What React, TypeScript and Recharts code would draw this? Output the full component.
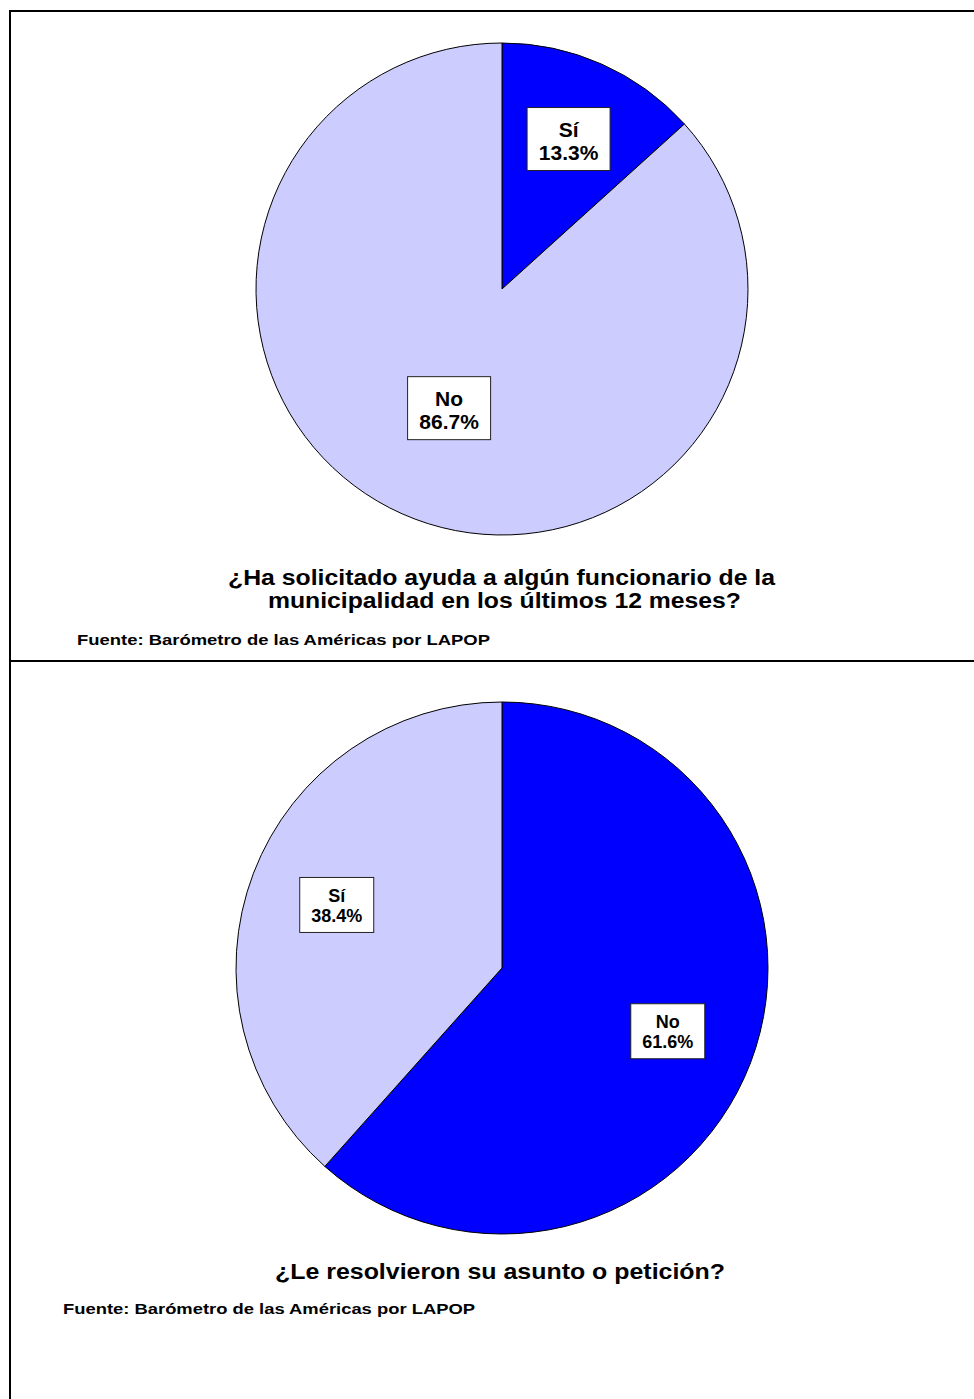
import React from "react";
import { PieChart, Pie, Cell } from "recharts";

// Pregunta 1: ¿Ha solicitado ayuda...?
const q1Names = ["Sí", "No"];
const q1Values = [13.3, 86.7];
const q1Colors = ["#0000FF", "#CCCCFF"];

// Pregunta 2: ¿Le resolvieron...?
const q2Names = ["No", "Sí"];
const q2Values = [61.6, 38.4];
const q2Colors = ["#0000FF", "#CCCCFF"];

const q1Title = [
  "¿Ha solicitado ayuda a algún funcionario de la",
  "municipalidad en los últimos 12 meses?",
];
const q2Title = ["¿Le resolvieron su asunto o petición?"];
const source = "Fuente: Barómetro de las Américas por LAPOP";

const FONT = "'Liberation Sans', Arial, Helvetica, sans-serif";
const RAD = Math.PI / 180;

interface LabelStyle {
  radius: number[];
  boxW: number;
  boxH: number;
  fontSize: number;
  line1: number;
  line2: number;
}

function makeLabel(st: LabelStyle) {
  return (p: any) => {
    const r = p.outerRadius * st.radius[p.index];
    const x = p.cx + r * Math.cos(-p.midAngle * RAD);
    const y = p.cy + r * Math.sin(-p.midAngle * RAD);
    return (
      <g key={`lbl-${p.index}`}>
        <rect
          x={x - st.boxW / 2}
          y={y - st.boxH / 2}
          width={st.boxW}
          height={st.boxH}
          fill="#fff"
          stroke="#222"
          strokeWidth={1}
        />
        <text
          x={x}
          y={y + st.line1}
          textAnchor="middle"
          fontFamily={FONT}
          fontWeight="bold"
          fontSize={st.fontSize}
          fill="#000"
        >
          {p.name}
        </text>
        <text
          x={x}
          y={y + st.line2}
          textAnchor="middle"
          fontFamily={FONT}
          fontWeight="bold"
          fontSize={st.fontSize}
          fill="#000"
        >
          {`${Number(p.value).toFixed(1)}%`}
        </text>
      </g>
    );
  };
}

function PiePanel({
  names,
  values,
  colors,
  width,
  height,
  cx,
  cy,
  r,
  label,
}: {
  names: string[];
  values: number[];
  colors: string[];
  width: number;
  height: number;
  cx: number;
  cy: number;
  r: number;
  label: LabelStyle;
}) {
  const data = names.map((n, i) => ({ name: n, value: values[i] }));
  return (
    <PieChart width={width} height={height} margin={{ top: 0, right: 0, bottom: 0, left: 0 }}>
      <Pie
        data={data}
        dataKey="value"
        nameKey="name"
        cx={cx}
        cy={cy}
        outerRadius={r}
        startAngle={90}
        endAngle={-270}
        stroke="#000"
        strokeWidth={1}
        labelLine={false}
        label={makeLabel(label)}
        isAnimationActive={false}
      >
        {data.map((d, i) => (
          <Cell key={d.name} fill={colors[i]} />
        ))}
      </Pie>
    </PieChart>
  );
}

export default function App() {
  return (
    <div
      style={{
        position: "relative",
        width: 974,
        height: 1399,
        overflow: "hidden",
        background: "#fff",
        fontFamily: FONT,
      }}
    >
      <style>{`body{margin:0;overflow:hidden}`}</style>

      <div style={{ position: "absolute", left: 0, top: 0 }}>
        <PiePanel
          names={q1Names}
          values={q1Values}
          colors={q1Colors}
          width={974}
          height={660}
          cx={502}
          cy={289}
          r={246}
          label={{ radius: [0.667, 0.53], boxW: 83, boxH: 63, fontSize: 21, line1: -2.5, line2: 20.5 }}
        />
      </div>
      <div style={{ position: "absolute", left: 0, top: 662 }}>
        <PiePanel
          names={q2Names}
          values={q2Values}
          colors={q2Colors}
          width={974}
          height={737}
          cx={502}
          cy={306}
          r={266}
          label={{ radius: [0.667, 0.665], boxW: 74, boxH: 55, fontSize: 18, line1: -3, line2: 17 }}
        />
      </div>

      {/* frame lines */}
      <div style={{ position: "absolute", left: 9, top: 10, width: 965, height: 2, background: "#000" }} />
      <div style={{ position: "absolute", left: 9, top: 10, width: 2, height: 1389, background: "#000" }} />
      <div style={{ position: "absolute", left: 9, top: 660, width: 965, height: 2, background: "#000" }} />

      <svg
        width={974}
        height={1399}
        style={{ position: "absolute", left: 0, top: 0, pointerEvents: "none" }}
      >
        <g fontFamily={FONT} fontWeight="bold" fill="#000">
          <text x={228} y={585} fontSize={22} textLength={547} lengthAdjust="spacingAndGlyphs">
            {q1Title[0]}
          </text>
          <text x={268} y={608} fontSize={22} textLength={473} lengthAdjust="spacingAndGlyphs">
            {q1Title[1]}
          </text>
          <text x={77} y={645} fontSize={14} textLength={413} lengthAdjust="spacingAndGlyphs">
            {source}
          </text>
          <text x={275} y={1279} fontSize={22} textLength={450} lengthAdjust="spacingAndGlyphs">
            {q2Title[0]}
          </text>
          <text x={63} y={1314} fontSize={14} textLength={412} lengthAdjust="spacingAndGlyphs">
            {source}
          </text>
        </g>
      </svg>
    </div>
  );
}
